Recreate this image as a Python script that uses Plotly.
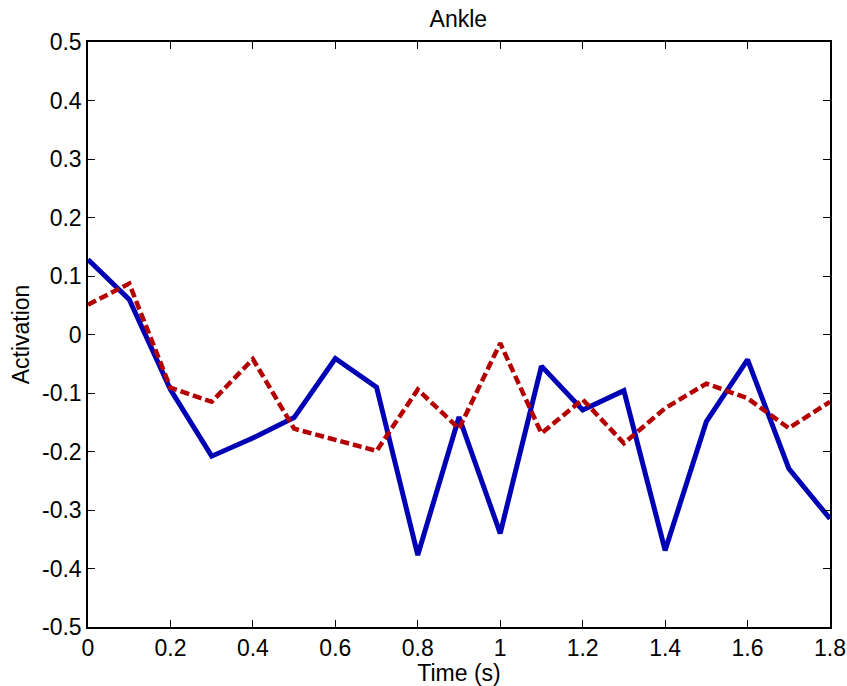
import plotly.graph_objects as go

# Time samples (s)
time_s = [0.0, 0.1, 0.2, 0.3, 0.4, 0.5, 0.6, 0.7, 0.8, 0.9,
          1.0, 1.1, 1.2, 1.3, 1.4, 1.5, 1.6, 1.7, 1.8]

# Ankle activation, solid blue series
activation_solid = [0.128, 0.060, -0.094, -0.208, -0.177, -0.142, -0.041, -0.090, -0.377, -0.141,
                    -0.340, -0.054, -0.129, -0.096, -0.369, -0.149, -0.043, -0.229, -0.315]

# Ankle activation, dashed red series
activation_dashed = [0.051, 0.087, -0.091, -0.115, -0.042, -0.161, -0.180, -0.199, -0.094, -0.161,
                     -0.015, -0.169, -0.111, -0.186, -0.126, -0.084, -0.109, -0.160, -0.115]

x_ticks = [0, 0.2, 0.4, 0.6, 0.8, 1.0, 1.2, 1.4, 1.6, 1.8]
x_tick_text = ["0", "0.2", "0.4", "0.6", "0.8", "1", "1.2", "1.4", "1.6", "1.8"]
y_ticks = [-0.5, -0.4, -0.3, -0.2, -0.1, 0, 0.1, 0.2, 0.3, 0.4, 0.5]
y_tick_text = ["-0.5", "-0.4", "-0.3", "-0.2", "-0.1", "0", "0.1", "0.2", "0.3", "0.4", "0.5"]

FONT = "Liberation Sans, Arial, sans-serif"
FSIZE = 23

fig = go.Figure()
fig.add_trace(go.Scatter(
    x=time_s, y=activation_solid, mode="lines",
    line=dict(color="#0000b4", width=5),
    showlegend=False,
))
fig.add_trace(go.Scatter(
    x=time_s, y=activation_dashed, mode="lines",
    line=dict(color="#b40000", width=4.5, dash="9px,4px"),
    showlegend=False,
))

axis_common = dict(
    showgrid=False, zeroline=False, automargin=False,
    showline=True, linecolor="black", linewidth=1.5,
    mirror="allticks", ticks="inside", ticklen=7, tickwidth=1.2, tickcolor="black",
    tickfont=dict(family=FONT, size=FSIZE, color="black"),
)

fig.update_layout(
    width=847, height=686,
    margin=dict(l=88, r=17, t=42, b=59),
    paper_bgcolor="white", plot_bgcolor="white",
    title=dict(text="Ankle", x=0.5412, xanchor="center", y=1 - 19 / 686, yanchor="middle",
               font=dict(family=FONT, size=FSIZE, color="black")),
    xaxis=dict(range=[0, 1.8], tickvals=x_ticks, ticktext=x_tick_text,
               title=dict(text="Time (s)", standoff=0,
                          font=dict(family=FONT, size=FSIZE, color="black")),
               **axis_common),
    yaxis=dict(range=[-0.5, 0.5], tickvals=y_ticks, ticktext=y_tick_text,
               title=dict(text="Activation", standoff=6,
                          font=dict(family=FONT, size=FSIZE, color="black")),
               **axis_common),
)

fig.write_html("out.html")
